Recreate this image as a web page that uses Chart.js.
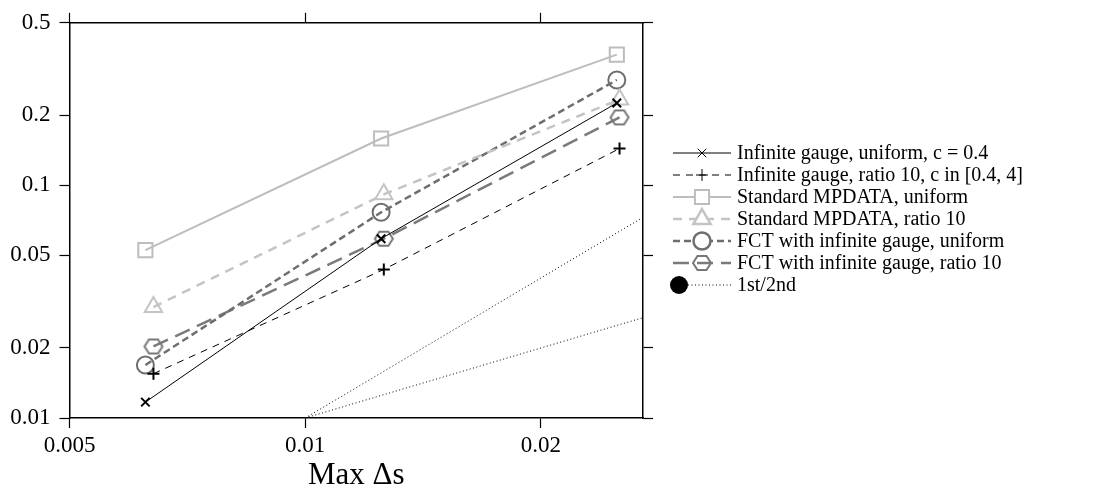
<!DOCTYPE html>
<html>
<head>
<meta charset="utf-8">
<script src="https://cdn.jsdelivr.net/npm/chart.js@4/dist/chart.umd.min.js"></script>
<style>
  html, body { margin: 0; padding: 0; background: #fff; }
</style>
</head>
<body>
<canvas id="chart" width="1097" height="498"></canvas>
<script>
// grid sizes (max Δs) for the two grid types
const dsUniform = [0.00625, 0.0125, 0.025];
const dsRatio = [0.0064, 0.0126, 0.0252];

// errors
const infUniform = [0.0117, 0.059, 0.226];
const infRatio = [0.0155, 0.0435, 0.144];
const mpUniform = [0.0527, 0.159, 0.365];
const mpRatio = [0.030, 0.0915, 0.234];
const fctUniform = [0.0169, 0.0766, 0.284];
const fctRatio = [0.0203, 0.059, 0.196];

// reference slopes
const refX = [0.01, 0.027];
const firstOrder = [0.01, 0.027];
const secondOrder = [0.01, 0.0729];

const xTicks = [0.005, 0.01, 0.02];
const yTicks = [0.01, 0.02, 0.05, 0.1, 0.2, 0.5];

const labels = [
  'Infinite gauge, uniform, c = 0.4',
  'Infinite gauge, ratio 10, c in [0.4, 4]',
  'Standard MPDATA, uniform',
  'Standard MPDATA, ratio 10',
  'FCT with infinite gauge, uniform',
  'FCT with infinite gauge, ratio 10',
  '1st/2nd'
];

function pts(xs, ys) {
  return ys.map((y, i) => ({x: xs[i], y: y}));
}

// hexagon marker, no built-in one
function hexagon(color) {
  const c = document.createElement('canvas');
  c.width = 22; c.height = 20;
  const g = c.getContext('2d');
  g.strokeStyle = color;
  g.lineWidth = 2;
  g.beginPath();
  for (let k = 0; k < 6; k++) {
    const a = k * Math.PI / 3;
    const px = 11 + 9 * Math.cos(a), py = 10 + 8 * Math.sin(a);
    if (k === 0) g.moveTo(px, py); else g.lineTo(px, py);
  }
  g.closePath();
  g.stroke();
  return c;
}

const FONT = '"Liberation Serif", "DejaVu Serif", serif';

const legendPlugin = {
  id: 'sideLegend',
  afterDraw(chart) {
    const ctx = chart.ctx;
    const x0 = 673, x1 = 731, tx = 737;
    let y = 153;
    ctx.save();
    chart.data.datasets.forEach(ds => {
      if (ds.legendSkip) return;
      ctx.strokeStyle = ds.borderColor;
      ctx.lineWidth = ds.borderWidth;
      ctx.setLineDash(ds.borderDash || []);
      ctx.beginPath();
      if (ds.legendDot) {
        ctx.moveTo(x0 + 15, y); ctx.lineTo(x1, y);
      } else {
        ctx.moveTo(x0, y); ctx.lineTo(x1, y);
      }
      ctx.stroke();
      ctx.setLineDash([]);
      if (ds.legendDot) {
        ctx.fillStyle = '#000';
        ctx.beginPath();
        ctx.arc(x0 + 6, y, 9, 0, Math.PI * 2);
        ctx.fill();
      } else {
        ctx.fillStyle = '#fff';
        Chart.helpers.drawPoint(ctx, {
          pointStyle: ds.pointStyle,
          radius: ds.pointRadius,
          borderWidth: ds.pointBorderWidth,
          rotation: 0
        }, (x0 + x1) / 2, y);
      }
      ctx.fillStyle = '#000';
      ctx.font = '20px ' + FONT;
      ctx.textBaseline = 'middle';
      ctx.textAlign = 'left';
      ctx.fillText(ds.label, tx, y + 1);
      y += 22;
    });
    ctx.restore();
  }
};

const axisGrid = {drawOnChartArea: false, drawTicks: true, tickLength: 10, color: '#000', tickColor: '#000', tickWidth: 1.2};
const axisBorder = {display: true, color: '#000', width: 1.5};
const tickFont = {family: FONT, size: 23};

new Chart(document.getElementById('chart'), {
  type: 'line',
  data: {
    datasets: [
      {
        label: labels[0], data: pts(dsUniform, infUniform),
        borderColor: '#000', borderWidth: 1,
        pointStyle: 'crossRot', pointRadius: 6, pointBorderWidth: 2,
        pointBorderColor: '#000'
      },
      {
        label: labels[1], data: pts(dsRatio, infRatio),
        borderColor: '#000', borderWidth: 1, borderDash: [7, 6],
        pointStyle: 'cross', pointRadius: 6, pointBorderWidth: 2,
        pointBorderColor: '#000'
      },
      {
        label: labels[2], data: pts(dsUniform, mpUniform),
        borderColor: '#bdbdbd', borderWidth: 2,
        pointStyle: 'rect', pointRadius: 10, pointBorderWidth: 2,
        pointBorderColor: '#bdbdbd', pointBackgroundColor: 'rgba(0,0,0,0)'
      },
      {
        label: labels[3], data: pts(dsRatio, mpRatio),
        borderColor: '#c4c4c4', borderWidth: 2.5, borderDash: [9, 7],
        pointStyle: 'triangle', pointRadius: 10, pointBorderWidth: 2,
        pointBorderColor: '#c4c4c4', pointBackgroundColor: 'rgba(0,0,0,0)'
      },
      {
        label: labels[4], data: pts(dsUniform, fctUniform),
        borderColor: '#6e6e6e', borderWidth: 2.5, borderDash: [7, 4],
        pointStyle: 'circle', pointRadius: 8.5, pointBorderWidth: 2,
        pointBorderColor: '#6e6e6e', pointBackgroundColor: 'rgba(0,0,0,0)'
      },
      {
        label: labels[5], data: pts(dsRatio, fctRatio),
        borderColor: '#7a7a7a', borderWidth: 2.5, borderDash: [16, 8],
        pointStyle: hexagon('#777'), pointRadius: 9, pointBorderWidth: 2
      },
      {
        label: labels[6], data: pts(refX, firstOrder), legendDot: true,
        borderColor: '#000', borderWidth: 1, borderDash: [1, 2.5],
        pointRadius: 0, pointStyle: 'circle'
      },
      {
        label: labels[6], data: pts(refX, secondOrder), legendSkip: true,
        borderColor: '#000', borderWidth: 1, borderDash: [1, 2.5],
        pointRadius: 0
      }
    ]
  },
  options: {
    responsive: false,
    animation: false,
    devicePixelRatio: 1,
    layout: {padding: {top: 0, right: 444, left: 0, bottom: 0}},
    plugins: {legend: {display: false}, tooltip: {enabled: false}},
    scales: {
      x: {
        type: 'logarithmic', position: 'bottom', min: 0.005, max: 0.027,
        afterBuildTicks: s => { s.ticks = xTicks.map(v => ({value: v})); },
        afterFit: s => { s.height = 80; },
        grid: axisGrid, border: axisBorder,
        ticks: {font: tickFont, color: '#000', padding: 4, maxRotation: 0,
          callback: v => String(v)},
        title: {display: true, text: 'Max Δs', color: '#000',
          font: {family: FONT, size: 31}, padding: {top: 6}}
      },
      x2: {
        type: 'logarithmic', position: 'top', min: 0.005, max: 0.027,
        afterBuildTicks: s => { s.ticks = xTicks.map(v => ({value: v})); },
        afterFit: s => { s.height = 15; },
        grid: axisGrid, border: axisBorder,
        ticks: {display: false}
      },
      y: {
        type: 'logarithmic', position: 'left', min: 0.01, max: 0.5,
        afterBuildTicks: s => { s.ticks = yTicks.map(v => ({value: v})); },
        afterFit: s => { s.width = 69.5; },
        grid: axisGrid, border: axisBorder,
        ticks: {font: tickFont, color: '#000', padding: 9,
          callback: v => String(v)}
      },
      y2: {
        type: 'logarithmic', position: 'right', min: 0.01, max: 0.5,
        afterBuildTicks: s => { s.ticks = yTicks.map(v => ({value: v})); },
        afterFit: s => { s.width = 10; },
        grid: axisGrid, border: axisBorder,
        ticks: {display: false}
      }
    }
  },
  plugins: [legendPlugin]
});
</script>
</body>
</html>
